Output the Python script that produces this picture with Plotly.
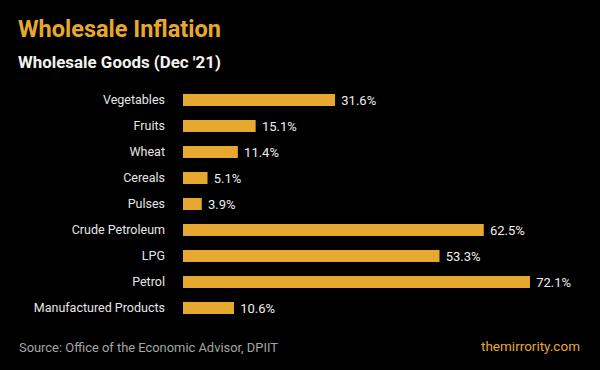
import plotly.graph_objects as go

categories = ["Vegetables", "Fruits", "Wheat", "Cereals", "Pulses",
              "Crude Petroleum", "LPG", "Petrol", "Manufactured Products"]
values = [31.6, 15.1, 11.4, 5.1, 3.9, 62.5, 53.3, 72.1, 10.6]
value_labels = [f"{v:.1f}%" for v in values]

GOLD = "#E6A82F"
W, H = 600, 370
L, R, T, B = 183, 32, 87, 49
PW, PH = W - L - R, H - T - B


def px_x(px):
    return (px - L) / PW


def px_y(py):
    return (H - B - py) / PH


fig = go.Figure(go.Bar(
    x=values, y=categories, orientation="h",
    marker=dict(color=GOLD, line=dict(width=0)),
    text=value_labels, texttemplate=" %{text}", textposition="outside",
    constraintext="none",
    textfont=dict(family="Roboto", size=13, color="#eeeeee"),
    cliponaxis=False, hoverinfo="skip",
))

fig.update_layout(
    width=W, height=H,
    margin=dict(l=L, r=R, t=T, b=B, pad=0),
    paper_bgcolor="black", plot_bgcolor="black",
    bargap=0.54, showlegend=False,
    xaxis=dict(range=[0, 80], visible=False, fixedrange=True),
    yaxis=dict(autorange="reversed", showgrid=False, zeroline=False, showline=False,
               ticks="", ticklabelstandoff=17, fixedrange=True,
               tickfont=dict(family="Roboto", size=12.5, color="#e6e6e6")),
    annotations=[
        dict(text="Wholesale Inflation", xref="paper", yref="paper",
             x=px_x(16), y=px_y(29), xanchor="left", yanchor="middle", showarrow=False,
             font=dict(family="Roboto", size=23.5, weight=700, color=GOLD)),
        dict(text="<b>Wholesale Goods (Dec '21)</b>", xref="paper", yref="paper",
             x=px_x(16), y=px_y(62), xanchor="left", yanchor="middle", showarrow=False,
             font=dict(family="Roboto", size=16.9, color="#f2f2f2")),
        dict(text="Source: Office of the Economic Advisor, DPIIT", xref="paper", yref="paper",
             x=px_x(17), y=px_y(347), xanchor="left", yanchor="middle", showarrow=False,
             font=dict(family="Roboto", size=12.9, color="#a6a6a6")),
        dict(text="themirrority.com", xref="paper", yref="paper",
             x=px_x(582), y=px_y(346), xanchor="right", yanchor="middle", showarrow=False,
             font=dict(family="Roboto", size=13.5, color=GOLD)),
    ],
)

fig.write_html("out.html", config={"displayModeBar": False},
               post_script="document.body.style.margin='0';document.body.style.background='black';")
